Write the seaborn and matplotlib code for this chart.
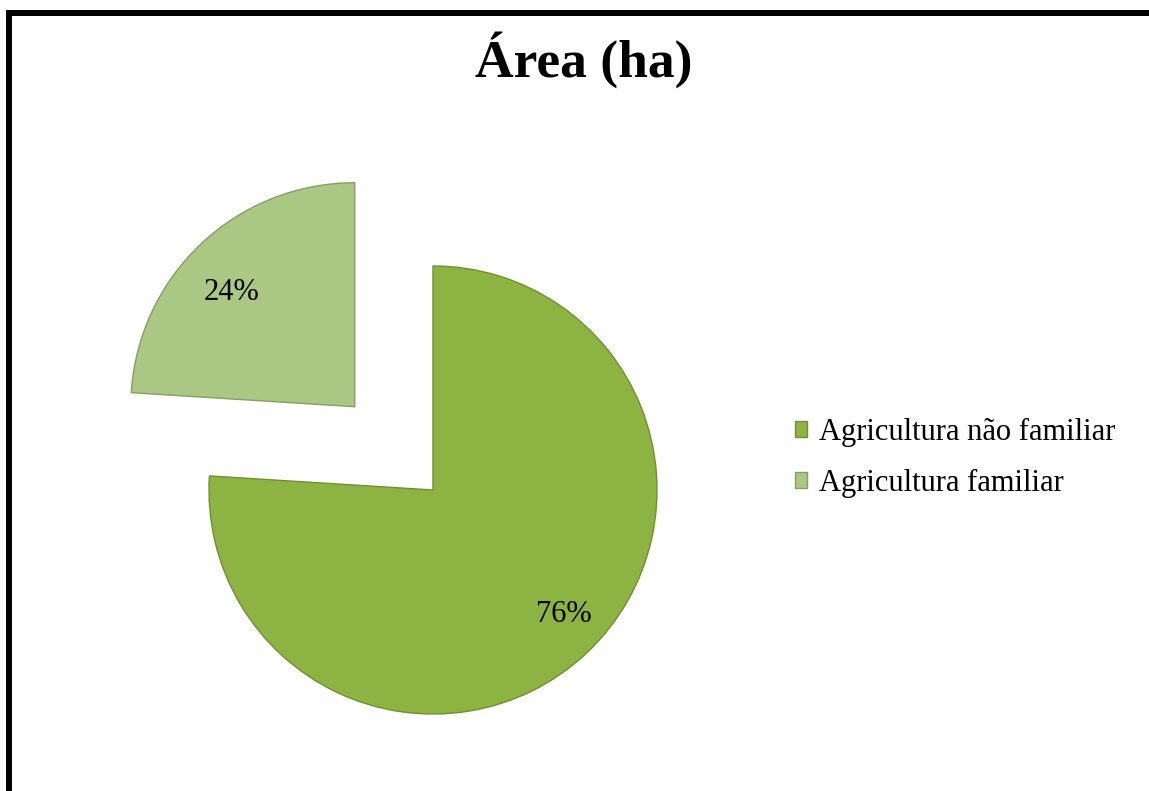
import matplotlib
matplotlib.use("Agg")
import matplotlib.pyplot as plt
from matplotlib.patches import Rectangle
import seaborn as sns

# data
labels = ["Agricultura não familiar", "Agricultura familiar"]
shares = [76, 24]
colors = ["#8db442", "#aac784"]
edge_colors = ["#6f8f35", "#879e66"]
title = "Área (ha)"

sns.set_theme(style="white")
plt.rcParams['font.family'] = ['Liberation Serif', 'DejaVu Serif']
plt.rcParams['text.color'] = 'black'

W, H = 1149, 791
fig = plt.figure(figsize=(W / 100, H / 100), dpi=100)
fig.patch.set_facecolor("white")

# axes covers whole figure, pie centre at (433, 490) px, radius 224 px
ax = fig.add_axes([0, 0, 1, 1])
r_px = 224.0
cx, cy = 433.0, 490.0
wedges, texts, autotexts = ax.pie(
    shares, colors=colors, startangle=90, counterclock=False,
    explode=[0, 0.51], autopct="%1.0f%%", pctdistance=0.79,
    wedgeprops=dict(linewidth=1.0),
    textprops=dict(fontsize=22, color="black"))
for w, ec in zip(wedges, edge_colors):
    w.set_edgecolor(ec)

# Excel puts the labels a little differently; nudge them (pixel offsets)
nudges = [(10, 4), (-2, -15)]
for t, (dx, dy) in zip(autotexts, nudges):
    x, y = t.get_position()
    t.set_position((x + dx / r_px, y + dy / r_px))

ax.set_aspect("auto")
ax.set_xlim(-cx / r_px, (W - cx) / r_px)
ax.set_ylim(-(H - cy) / r_px, cy / r_px)
ax.axis("off")

fig.text(584 / W, 1 - 60 / H, title, ha="center", va="center",
         fontsize=38.5, fontweight="bold", color="black")

leg = fig.legend(wedges, labels, loc="upper left",
                 bbox_to_anchor=(795 / W, 1 - 418 / H), frameon=False,
                 fontsize=22, handlelength=0.4, handleheight=0.4,
                 handletextpad=0.4, labelspacing=0.72, borderpad=0,
                 borderaxespad=0)
for t in leg.get_texts():
    t.set_color("black")

# outer frame (bottom edge cut off in the original)
fig.patches.append(Rectangle((8.5 / W, -0.05), 1.2, 1.05 - 13 / H,
                             transform=fig.transFigure, fill=False,
                             edgecolor="black", linewidth=4.3))

fig.savefig("out.png", dpi=100, facecolor="white")
